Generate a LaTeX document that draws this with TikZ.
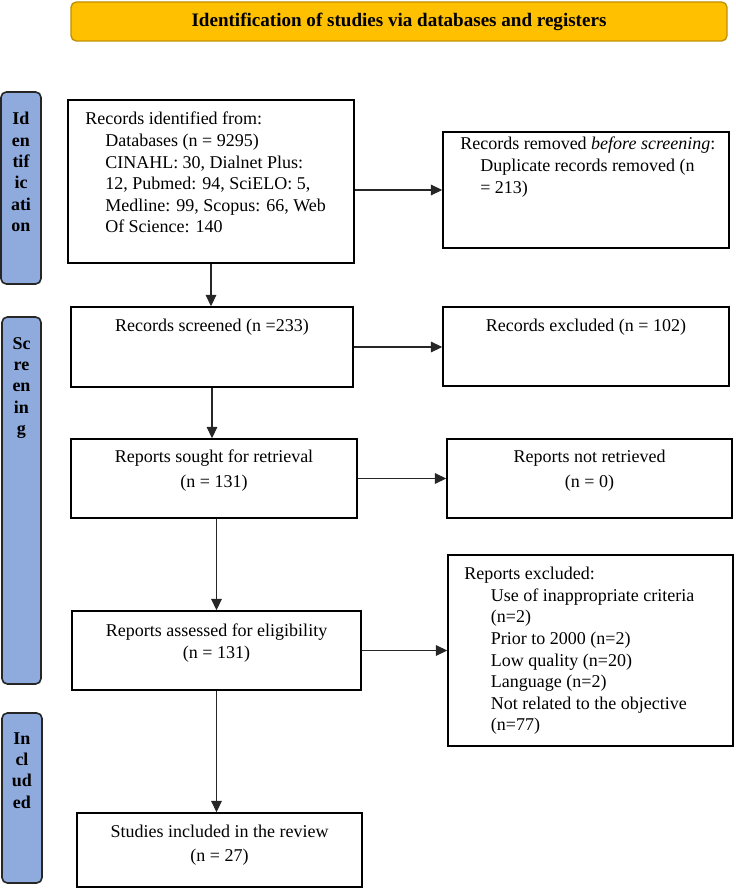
\documentclass[tikz,border=0pt]{standalone}
\usepackage{fontspec}
\setmainfont{Liberation Serif}
\usetikzlibrary{arrows.meta,fit}

\definecolor{titlegold}{HTML}{FFC000}
\definecolor{titleedge}{HTML}{BF9000}
\definecolor{phaseblue}{HTML}{8FAADC}
\newcommand{\prind}{\hspace*{15pt}}
\newcommand{\prindwide}{\hspace*{20pt}}

\begin{document}
\begin{tikzpicture}[x=0.75pt,y=-0.75pt]
   \tikzstyle{box}=[draw, line width=1.2pt, inner sep=0pt]
   \tikzstyle{phase}=[draw=black!85, fill=phaseblue, line width=1.2pt, rounded corners=4pt, inner sep=0pt]
   \tikzstyle{txt}=[inner sep=0pt, font=\fontsize{13.5}{16.2}\selectfont]
   \tikzstyle{phasetxt}=[inner sep=0pt, anchor=north, align=center, font=\bfseries\fontsize{13.5}{16}\selectfont]
   \tikzstyle{arr}=[-{Triangle[length=8.5pt,width=8pt]}, line width=0.8pt, draw=black!85]

\useasboundingbox (0,0) rectangle (735,888);

% header
\node[box, draw=titleedge, fill=titlegold, rounded corners=4pt, line width=1pt, fit={(71,2) (727,41)}] (head) {};
\node[phasetxt, anchor=center, font=\bfseries\fontsize{14.3}{16}\selectfont] (headtxt) at (head.center) {Identification of studies via databases and registers};

% phases
\node[phase, fit={(1,92) (41,284)}] (idbar) {};
\node[phasetxt] (idtxt) at (21,112) {Id\\en\\tif\\ic\\ati\\on};
\node[phase, fit={(2,317) (41,684)}] (scrbar) {};
\node[phasetxt] (scrtxt) at (21.5,337) {Sc\\re\\en\\in\\g};
\node[phase, fit={(2,713) (42,883)}] (incbar) {};
\node[phasetxt] (inctxt) at (22,732) {In\\cl\\ud\\ed};

% boxes
\node[box, fit={(68,100) (354,263)}] (ident) {};
\node[txt, anchor=north west, align=left] (identtxt) at (85,112) {Records identified from:\\
   \prind Databases (n = 9295)\\
   \prind CINAHL: 30, Dialnet Plus:\\
   \prind 12, Pubmed: 94, SciELO: 5,\\
   \prind Medline: 99, Scopus: 66, Web\\
   \prind Of Science: 140};

\node[box, fit={(443,132) (729,248)}] (removed) {};
\node[txt, anchor=north west, align=left] (removedtxt) at (460,137) {Records removed \textit{before screening}:\\
   \prind Duplicate records removed (n\\
   \prind = 213)};

\node[box, fit={(71,307) (353,387)}] (screened) {};
\node[txt, anchor=north] (screenedtxt) at (212,319) {Records screened (n =233)};

\node[box, fit={(443,307) (729,386)}] (excluded) {};
\node[txt, anchor=north] (excludedtxt) at (586,319) {Records excluded (n = 102)};

\node[box, fit={(71,439) (357,518)}] (sought) {};
\node[txt, anchor=north, align=center, font=\fontsize{13.5}{18.5}\selectfont] (soughttxt) at (214,450) {Reports sought for retrieval\\(n = 131)};

\node[box, fit={(447,439) (732,518)}] (notretr) {};
\node[txt, anchor=north, align=center, font=\fontsize{13.5}{18.5}\selectfont] (notretrtxt) at (589.5,450) {Reports not retrieved\\(n = 0)};

\node[box, fit={(72,611) (361,690)}] (assessed) {};
\node[txt, anchor=north, align=center] (assessedtxt) at (216.5,624) {Reports assessed for eligibility\\(n = 131)};

\node[box, fit={(448,555) (733,746)}] (repexcl) {};
\node[txt, anchor=north west, align=left] (repexcltxt) at (464,567) {Reports excluded:\\
   \prindwide Use of inappropriate criteria\\
   \prindwide (n=2)\\
   \prindwide Prior to 2000 (n=2)\\
   \prindwide Low quality (n=20)\\
   \prindwide Language (n=2)\\
   \prindwide Not related to the objective\\
   \prindwide (n=77)};

\node[box, fit={(77,813) (362,887)}] (included) {};
\node[txt, anchor=north, align=center, font=\fontsize{13.5}{17.5}\selectfont] (includedtxt) at (219.5,825) {Studies included in the review\\(n = 27)};

% arrows
\draw[arr] (removed.west -| ident.east) -- (removed.west);
\draw[arr] (ident.south) -- (ident.south |- screened.north);
\draw[arr] (screened.east) -- (screened.east -| excluded.west);
\draw[arr] (screened.south) -- (screened.south |- sought.north);
\draw[arr] (sought.east) -- (sought.east -| notretr.west);
\draw[arr] (assessed.north |- sought.south) -- (assessed.north);
\draw[arr] (assessed.east) -- (assessed.east -| repexcl.west);
\draw[arr] (assessed.south) -- (assessed.south |- included.north);

\end{tikzpicture}
\end{document}
